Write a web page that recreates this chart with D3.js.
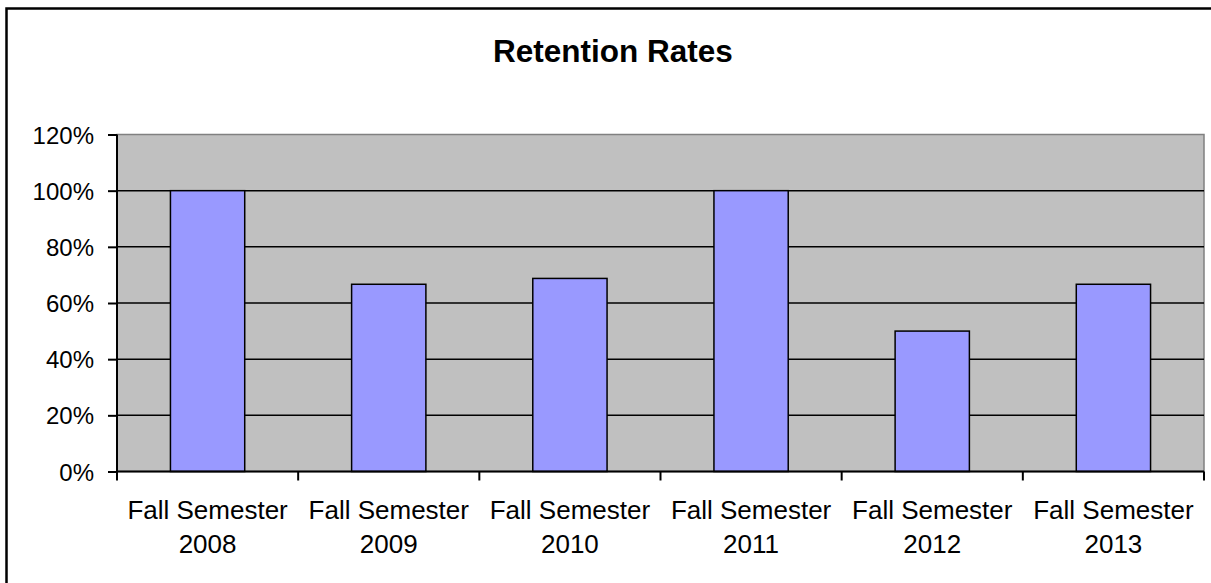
<!DOCTYPE html>
<html>
<head>
<meta charset="utf-8">
<script src="https://cdn.jsdelivr.net/npm/d3@7"></script>
<style>
  body { margin: 0; background: #fff; }
  svg { display: block; font-family: Arial, "Liberation Sans", sans-serif; }
</style>
</head>
<body>
<svg width="1211" height="583"></svg>
<script>
// chart data
var categories = ["Fall Semester 2008", "Fall Semester 2009", "Fall Semester 2010",
                  "Fall Semester 2011", "Fall Semester 2012", "Fall Semester 2013"];
var rates = [1.0, 0.6667, 0.6875, 1.0, 0.5, 0.6667];
var yTicks = [0, 0.2, 0.4, 0.6, 0.8, 1.0, 1.2];
var title = "Retention Rates";

var svg = d3.select("svg"),
    width = +svg.attr("width"),
    height = +svg.attr("height");

// plot area bounds
var plotL = 117, plotR = 1204, plotT = 134.5, plotB = 471.5;

// outer chart frame (runs off the right/bottom of the picture)
svg.append("rect")
    .attr("x", 6.5).attr("y", 8.5)
    .attr("width", width + 20).attr("height", height + 20)
    .attr("fill", "#fff")
    .attr("stroke", "#000")
    .attr("stroke-width", 2.5);

svg.append("text")
    .attr("x", 613).attr("y", 62)
    .attr("text-anchor", "middle")
    .attr("font-size", 31.5)
    .attr("font-weight", "bold")
    .text(title);

var x = d3.scaleBand()
    .domain(categories)
    .range([plotL, plotR])
    .padding(0);

var y = d3.scaleLinear()
    .domain([0, 1.2])
    .range([plotB, plotT]);

// grey plot background with grey top/right border
svg.append("rect")
    .attr("x", plotL).attr("y", plotT)
    .attr("width", plotR - plotL).attr("height", plotB - plotT)
    .attr("fill", "#c0c0c0")
    .attr("stroke", "#808080")
    .attr("stroke-width", 1.5);

// gridlines
svg.append("g")
  .selectAll("line")
  .data(yTicks.filter(function(d) { return d > 0 && d < 1.2; }))
  .enter().append("line")
    .attr("x1", plotL).attr("x2", plotR)
    .attr("y1", function(d) { return y(d); })
    .attr("y2", function(d) { return y(d); })
    .attr("stroke", "#000")
    .attr("stroke-width", 1.5);

// bars, ~41% of each category width, centred
var barW = x.bandwidth() * 0.41;
svg.append("g")
  .selectAll("rect")
  .data(rates)
  .enter().append("rect")
    .attr("x", function(d, i) { return x(categories[i]) + (x.bandwidth() - barW) / 2; })
    .attr("y", function(d) { return y(d); })
    .attr("width", barW)
    .attr("height", function(d) { return plotB - y(d); })
    .attr("fill", "#9999ff")
    .attr("stroke", "#000")
    .attr("stroke-width", 1.5);

// y axis
var yAxis = svg.append("g")
    .attr("transform", "translate(" + plotL + ",0)")
    .call(d3.axisLeft(y)
      .tickValues(yTicks)
      .tickSize(9)
      .tickPadding(14)
      .tickFormat(d3.format(".0%")));
yAxis.select(".domain").attr("stroke-width", 2).attr("d", "M0," + plotT + "V" + plotB);
yAxis.selectAll(".tick line").attr("stroke-width", 2);
yAxis.selectAll(".tick text")
    .attr("font-size", 24)
    .attr("font-family", "Arial, 'Liberation Sans', sans-serif")
    .attr("fill", "#000")
    .attr("dy", "0.36em");

// x axis: tick marks at category boundaries
var xAxis = svg.append("g");
xAxis.append("line")
    .attr("x1", plotL).attr("x2", plotR)
    .attr("y1", plotB).attr("y2", plotB)
    .attr("stroke", "#000").attr("stroke-width", 2);
var bounds = categories.map(function(c) { return x(c); }).concat([plotR]);
xAxis.selectAll("line.tk")
  .data(bounds)
  .enter().append("line")
    .attr("class", "tk")
    .attr("x1", function(d) { return d; }).attr("x2", function(d) { return d; })
    .attr("y1", plotB).attr("y2", plotB + 9)
    .attr("stroke", "#000").attr("stroke-width", 2);

// two-line category labels
var lbl = xAxis.selectAll("text")
  .data(categories)
  .enter().append("text")
    .attr("x", function(d) { return x(d) + x.bandwidth() / 2; })
    .attr("y", 519)
    .attr("text-anchor", "middle")
    .attr("font-size", 26);
lbl.append("tspan")
    .attr("x", function(d) { return x(d) + x.bandwidth() / 2; })
    .text(function(d) { return d.split(" ").slice(0, 2).join(" "); });
lbl.append("tspan")
    .attr("x", function(d) { return x(d) + x.bandwidth() / 2; })
    .attr("dy", 34)
    .text(function(d) { return d.split(" ")[2]; });
</script>
</body>
</html>
